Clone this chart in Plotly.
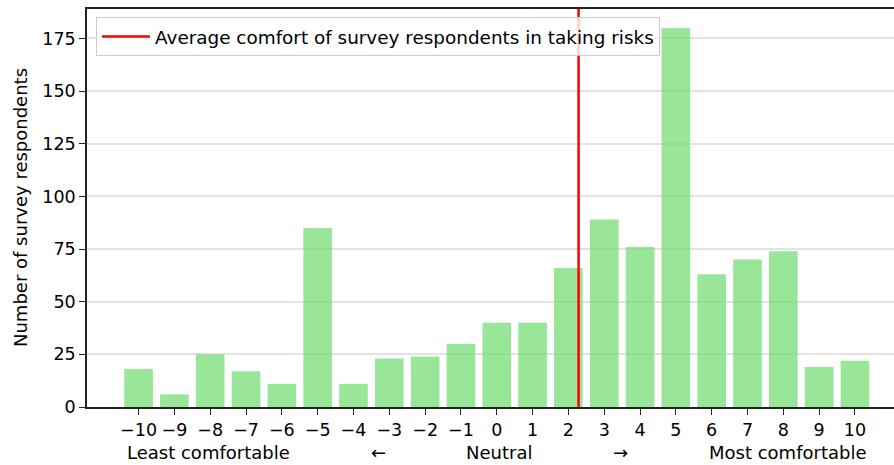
import plotly.graph_objects as go

# Comfort score scale and number of respondents at each score
comfort_scores = [-10, -9, -8, -7, -6, -5, -4, -3, -2, -1, 0, 1, 2, 3, 4, 5, 6, 7, 8, 9, 10]
respondents = [18, 6, 25, 17, 11, 85, 11, 23, 24, 30, 40, 40, 66, 89, 76, 180, 63, 70, 74, 19, 22]
y_ticks = [0, 25, 50, 75, 100, 125, 150, 175]
scale_labels = ["Least comfortable", "\u2190", "Neutral", "\u2192", "Most comfortable"]
scale_label_x = [-8.06, -3.30, 0.06, 3.46, 8.11]

total = sum(respondents)
average_comfort = sum(s * n for s, n in zip(comfort_scores, respondents)) / total

FONT = "DejaVu Sans"
FS = 18
W, H = 894, 465
L, T, B, R = 87, 9, 58, 0
y_top = 189

fig = go.Figure()
fig.add_trace(go.Bar(
    x=comfort_scores,
    y=respondents,
    width=0.8,
    marker=dict(color="rgba(119,221,119,0.75)", line=dict(width=0)),
    showlegend=False,
    hoverinfo="x+y",
))
fig.add_trace(go.Scatter(
    x=[average_comfort, average_comfort],
    y=[0, y_top],
    mode="lines",
    line=dict(color="red", width=2.5),
    name="Average comfort of survey respondents in taking risks",
))

# second row of x labels describing the comfort scale
annotations = [
    dict(text=t, x=xv, xref="x", y=0, yref="paper", yshift=-45,
         xanchor="center", yanchor="middle", showarrow=False,
         font=dict(family=FONT, size=FS, color="black"))
    for t, xv in zip(scale_labels, scale_label_x)
]
annotations.append(dict(
    text="Number of survey respondents", textangle=-90,
    x=(20 - L) / (W - L - R), xref="paper", y=0.5, yref="paper",
    xanchor="center", yanchor="middle", showarrow=False,
    font=dict(family=FONT, size=18, color="black"),
))

fig.update_layout(
    width=W, height=H,
    margin=dict(l=L, r=R, t=T, b=B, pad=0),
    plot_bgcolor="white", paper_bgcolor="white",
    font=dict(family=FONT, size=FS, color="black"),
    annotations=annotations,
    legend=dict(
        x=(96 - L) / (W - L - R), y=1 - (17 - T) / (H - T - B),
        xanchor="left", yanchor="top",
        bgcolor="rgba(255,255,255,0.8)", bordercolor="#cccccc", borderwidth=1,
        itemwidth=48,
        font=dict(family=FONT, size=18.4, color="black"),
    ),
    xaxis=dict(
        range=[-11.44, 11.09],
        tickmode="array", tickvals=comfort_scores,
        ticktext=[str(s).replace("-", "\u2212") for s in comfort_scores],
        ticks="outside", ticklen=6, tickwidth=1.2, tickcolor="#222",
        showgrid=False, zeroline=False,
        showline=True, linecolor="#222", linewidth=1.5, mirror=True,
        tickfont=dict(family=FONT, size=17.5, color="black"),
    ),
    yaxis=dict(
        range=[0, y_top],
        tickmode="array", tickvals=y_ticks,
        ticks="outside", ticklen=6, tickwidth=1.2, tickcolor="#222",
        showgrid=True, gridcolor="#e3e3e3", gridwidth=1.5,
        zeroline=False,
        showline=True, linecolor="#222", linewidth=1.5,
        tickfont=dict(family=FONT, size=17.5, color="black"),
    ),
)

fig.write_html("out.html")
